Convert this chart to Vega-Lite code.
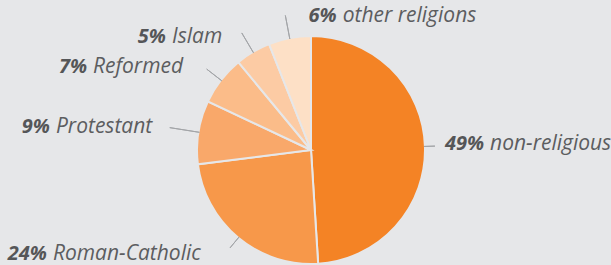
{
  "$schema": "https://vega.github.io/schema/vega-lite/v6.json",
  "width": 611,
  "height": 265,
  "autosize": {"type": "none"},
  "padding": 0,
  "background": "#e6e7e9",
  "config": {"view": {"stroke": null}},
  "data": {"values": [
    {"religion": "non-religious", "share": 0.49, "rank": 1},
    {"religion": "Roman-Catholic", "share": 0.24, "rank": 2},
    {"religion": "Protestant", "share": 0.09, "rank": 3},
    {"religion": "Reformed", "share": 0.07, "rank": 4},
    {"religion": "Islam", "share": 0.05, "rank": 5},
    {"religion": "other religions", "share": 0.06, "rank": 6}
  ]},
  "encoding": {
    "theta": {"field": "share", "type": "quantitative", "stack": true},
    "order": {"field": "rank", "type": "quantitative"}
  },
  "layer": [
    {
      "mark": {"type": "arc", "x": 311, "y": 150, "radius": 114, "stroke": "#e6e7e9", "strokeWidth": 2},
      "encoding": {
        "color": {"field": "religion", "type": "nominal", "legend": null,
          "scale": {"domain": ["non-religious", "Roman-Catholic", "Protestant", "Reformed", "Islam", "other religions"],
                    "range": ["#f48325", "#f7984a", "#f9a86a", "#fbbc89", "#fccba4", "#fde0c6"]}}
      }
    },
    {
      "mark": {"type": "arc", "x": 311, "y": 150, "radius": 124, "radius2": 113, "padAngle": 3.1416, "fill": "transparent", "stroke": "#a3a5a8", "strokeWidth": 1},
      "encoding": {"strokeOpacity": {"condition": {"test": "datum.religion === 'non-religious'", "value": 1}, "value": 0}}
    },
    {
      "mark": {"type": "arc", "x": 311, "y": 150, "radius": 127, "radius2": 113, "padAngle": 3.1416, "fill": "transparent", "stroke": "#a3a5a8", "strokeWidth": 1},
      "encoding": {"strokeOpacity": {"condition": {"test": "datum.religion === 'Roman-Catholic'", "value": 1}, "value": 0}}
    },
    {
      "mark": {"type": "arc", "x": 311, "y": 150, "radius": 143, "radius2": 113, "padAngle": 3.1416, "fill": "transparent", "stroke": "#a3a5a8", "strokeWidth": 1},
      "encoding": {"strokeOpacity": {"condition": {"test": "datum.religion === 'Protestant'", "value": 1}, "value": 0}}
    },
    {
      "mark": {"type": "arc", "x": 311, "y": 150, "radius": 132, "radius2": 113, "padAngle": 3.1416, "fill": "transparent", "stroke": "#a3a5a8", "strokeWidth": 1},
      "encoding": {"strokeOpacity": {"condition": {"test": "datum.religion === 'Reformed'", "value": 1}, "value": 0}}
    },
    {
      "mark": {"type": "arc", "x": 311, "y": 150, "radius": 136, "radius2": 113, "padAngle": 3.1416, "fill": "transparent", "stroke": "#a3a5a8", "strokeWidth": 1},
      "encoding": {"strokeOpacity": {"condition": {"test": "datum.religion === 'Islam'", "value": 1}, "value": 0}}
    },
    {
      "mark": {"type": "arc", "x": 311, "y": 150, "radius": 137, "radius2": 113, "padAngle": 3.1416, "fill": "transparent", "stroke": "#a3a5a8", "strokeWidth": 1},
      "encoding": {"strokeOpacity": {"condition": {"test": "datum.religion === 'other religions'", "value": 1}, "value": 0}}
    },
    {
      "mark": {"type": "text", "x": 311, "y": 150, "radius": 135, "dx": 38.1, "dy": 4.2, "align": "right", "baseline": "alphabetic", "font": "Open Sans", "fontSize": 20, "fontStyle": "italic", "fontWeight": "bold", "color": "#555658"},
      "encoding": {"text": {"condition": {"test": "datum.religion === 'non-religious'", "field": "share", "type": "quantitative", "format": ".0%"}, "value": ""}}
    },
    {
      "mark": {"type": "text", "x": 311, "y": 150, "radius": 135, "dx": 44.1, "dy": 4.2, "align": "left", "baseline": "alphabetic", "font": "Open Sans", "fontSize": 21, "fontStyle": "italic", "fontWeight": "normal", "color": "#5c5d60"},
      "encoding": {"text": {"condition": {"test": "datum.religion === 'non-religious'", "field": "religion"}, "value": ""}}
    },
    {
      "mark": {"type": "text", "x": 311, "y": 150, "radius": 135, "dx": -178, "dy": 6, "align": "right", "baseline": "alphabetic", "font": "Open Sans", "fontSize": 20, "fontStyle": "italic", "fontWeight": "bold", "color": "#555658"},
      "encoding": {"text": {"condition": {"test": "datum.religion === 'Roman-Catholic'", "field": "share", "type": "quantitative", "format": ".0%"}, "value": ""}}
    },
    {
      "mark": {"type": "text", "x": 311, "y": 150, "radius": 135, "dx": -172, "dy": 6, "align": "left", "baseline": "alphabetic", "font": "Open Sans", "fontSize": 21, "fontStyle": "italic", "fontWeight": "normal", "color": "#5c5d60"},
      "encoding": {"text": {"condition": {"test": "datum.religion === 'Roman-Catholic'", "field": "religion"}, "value": ""}}
    },
    {
      "mark": {"type": "text", "x": 311, "y": 150, "radius": 135, "dx": -127.7, "dy": 4.1, "align": "right", "baseline": "alphabetic", "font": "Open Sans", "fontSize": 20, "fontStyle": "italic", "fontWeight": "bold", "color": "#555658"},
      "encoding": {"text": {"condition": {"test": "datum.religion === 'Protestant'", "field": "share", "type": "quantitative", "format": ".0%"}, "value": ""}}
    },
    {
      "mark": {"type": "text", "x": 311, "y": 150, "radius": 135, "dx": -121.7, "dy": 4.1, "align": "left", "baseline": "alphabetic", "font": "Open Sans", "fontSize": 21, "fontStyle": "italic", "fontWeight": "normal", "color": "#5c5d60"},
      "encoding": {"text": {"condition": {"test": "datum.religion === 'Protestant'", "field": "religion"}, "value": ""}}
    },
    {
      "mark": {"type": "text", "x": 311, "y": 150, "radius": 135, "dx": -117.3, "dy": 5.4, "align": "right", "baseline": "alphabetic", "font": "Open Sans", "fontSize": 20, "fontStyle": "italic", "fontWeight": "bold", "color": "#555658"},
      "encoding": {"text": {"condition": {"test": "datum.religion === 'Reformed'", "field": "share", "type": "quantitative", "format": ".0%"}, "value": ""}}
    },
    {
      "mark": {"type": "text", "x": 311, "y": 150, "radius": 135, "dx": -111.3, "dy": 5.4, "align": "left", "baseline": "alphabetic", "font": "Open Sans", "fontSize": 21, "fontStyle": "italic", "fontWeight": "normal", "color": "#5c5d60"},
      "encoding": {"text": {"condition": {"test": "datum.religion === 'Reformed'", "field": "religion"}, "value": ""}}
    },
    {
      "mark": {"type": "text", "x": 311, "y": 150, "radius": 135, "dx": -76.3, "dy": 8.9, "align": "right", "baseline": "alphabetic", "font": "Open Sans", "fontSize": 20, "fontStyle": "italic", "fontWeight": "bold", "color": "#555658"},
      "encoding": {"text": {"condition": {"test": "datum.religion === 'Islam'", "field": "share", "type": "quantitative", "format": ".0%"}, "value": ""}}
    },
    {
      "mark": {"type": "text", "x": 311, "y": 150, "radius": 135, "dx": -70.3, "dy": 8.9, "align": "left", "baseline": "alphabetic", "font": "Open Sans", "fontSize": 21, "fontStyle": "italic", "fontWeight": "normal", "color": "#5c5d60"},
      "encoding": {"text": {"condition": {"test": "datum.religion === 'Islam'", "field": "religion"}, "value": ""}}
    },
    {
      "mark": {"type": "text", "x": 311, "y": 150, "radius": 135, "dx": 51, "dy": 4.3, "align": "right", "baseline": "alphabetic", "font": "Open Sans", "fontSize": 20, "fontStyle": "italic", "fontWeight": "bold", "color": "#555658"},
      "encoding": {"text": {"condition": {"test": "datum.religion === 'other religions'", "field": "share", "type": "quantitative", "format": ".0%"}, "value": ""}}
    },
    {
      "mark": {"type": "text", "x": 311, "y": 150, "radius": 135, "dx": 57, "dy": 4.3, "align": "left", "baseline": "alphabetic", "font": "Open Sans", "fontSize": 21, "fontStyle": "italic", "fontWeight": "normal", "color": "#5c5d60"},
      "encoding": {"text": {"condition": {"test": "datum.religion === 'other religions'", "field": "religion"}, "value": ""}}
    }
  ]
}
